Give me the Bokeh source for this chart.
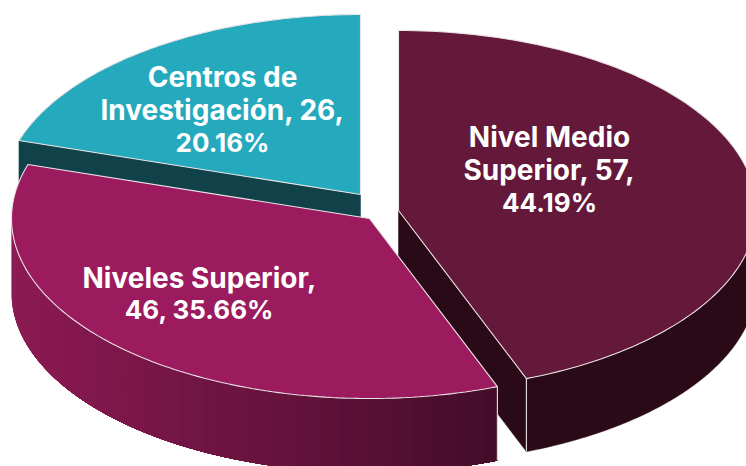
import numpy as np
from bokeh.plotting import figure
from bokeh.embed import file_html
from bokeh.resources import INLINE
from bokeh.core.properties import value

categories = ["Nivel Medio Superior", "Niveles Superior", "Centros de Investigación"]
counts = [57, 46, 26]
percents = ["44.19%", "35.66%", "20.16%"]
top_colors = ["#64183a", "#9b1b5e", "#25a9bd"]
cut_colors = ["#2b0a18", "#430c28", "#11424a"]
label_lines = [
    ["Nivel Medio", "Superior, 57,", "44.19%"],
    ["Niveles Superior,", "46, 35.66%"],
    ["Centros de", "Investigación, 26,", "20.16%"],
]

W, H = 746, 466
RX, RY = 358.0, 180.0
DEPTHS = [73.0, 74.0, 74.0]
CENTERS = [(398.0, 210.0), (369.0, 218.0), (360.0, 194.0)]
LABEL_POS = [(549.0, 136.5, 32.5), (199.0, 277.5, 31.0), (222.0, 76.5, 32.5)]
EDGE = "#e9e3e6"
FONT = "Inter"
TEXT_SIZE = "28px"
NUMBER_SIZE = "26px"

shares = np.array(counts, dtype=float) / sum(counts)
bounds = np.concatenate([[0.0], np.cumsum(shares)]) * 2 * np.pi


def pt(center, a, dy=0.0):
    return center[0] + RX * np.sin(a), center[1] - RY * np.cos(a) + dy


def arc(center, a0, a1, n=120, dy=0.0):
    return pt(center, np.linspace(a0, a1, n), dy)


p = figure(width=W, height=H, x_range=(0, W), y_range=(H, 0),
           output_backend="svg", toolbar_location=None,
           min_border=0, outline_line_color=None)
p.axis.visible = False
p.grid.visible = False
p.background_fill_color = None
p.border_fill_color = None


def draw_top(i):
    c = CENTERS[i]
    xa, ya = arc(c, bounds[i], bounds[i + 1])
    p.patch(np.r_[c[0], xa], np.r_[c[1], ya], fill_color=top_colors[i],
            line_color=EDGE, line_width=1.1)


def draw_cut(i, a):
    c = CENTERS[i]
    x1, y1 = pt(c, a)
    d = DEPTHS[i]
    p.patch([c[0], x1, x1, c[0]], [c[1], y1, y1 + d, c[1] + d],
            fill_color=cut_colors[i], line_color=cut_colors[i], line_width=0.5)


# slice 3 (back)
draw_cut(2, bounds[2])
draw_top(2)

# slice 1
c = CENTERS[0]
draw_cut(0, bounds[1])
xa, ya = arc(c, np.pi / 2, bounds[1])
p.patch(np.r_[xa, xa[::-1]], np.r_[ya, ya[::-1] + DEPTHS[0]],
        fill_color=cut_colors[0], line_color=cut_colors[0], line_width=0.5)
x1, y1 = pt(c, bounds[1])
p.line([x1, x1], [y1, y1 + DEPTHS[0]], line_color=EDGE, line_width=1.1)
draw_top(0)

# slice 2: outer wall with a horizontal gradient, painted as overlapping
# shapes from the left so that no seams appear between the colour steps
c = CENTERS[1]
left_rgb = np.array([0x8c, 0x1a, 0x53])
right_rgb = np.array([0x43, 0x0c, 0x28])
xmin, xmax = c[0] - RX, pt(c, bounds[1])[0]
for a0 in np.linspace(1.5 * np.pi, bounds[1], 48, endpoint=False):
    xa, ya = arc(c, a0, bounds[1], 80)
    t = (xa[0] - xmin) / (xmax - xmin)
    rgb = left_rgb + (right_rgb - left_rgb) * t
    col = "#%02x%02x%02x" % tuple(int(round(v)) for v in rgb)
    p.patch(np.r_[xa, xa[::-1]], np.r_[ya, ya[::-1] + DEPTHS[1]],
            fill_color=col, line_color=None)
x1, y1 = pt(c, bounds[1])
p.line([x1, x1], [y1, y1 + DEPTHS[1]], line_color=EDGE, line_width=1.1)
draw_top(1)

# labels: the line holding the percentage is set slightly smaller
for (lx, ly, step), lines in zip(LABEL_POS, label_lines):
    for k, line in enumerate(lines):
        size = NUMBER_SIZE if line.endswith("%") else TEXT_SIZE
        p.text([lx], [ly + step * k], text=[line],
               text_color="#ffffff", text_font=value(FONT), text_font_style="bold",
               text_font_size=value(size), text_align="center", text_baseline="middle")

open("out.html", "w").write(file_html(p, INLINE))
